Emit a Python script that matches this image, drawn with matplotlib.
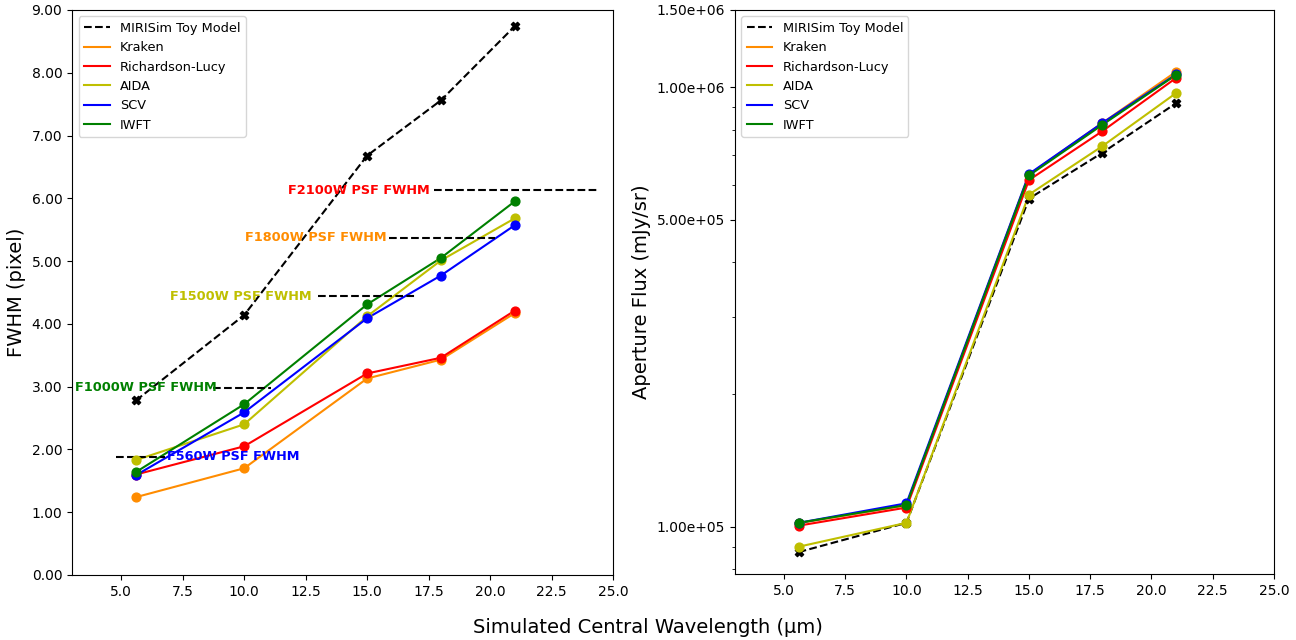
import numpy as np
import matplotlib
matplotlib.use("Agg")
import matplotlib.pyplot as plt
from matplotlib.ticker import FormatStrFormatter

# ---------------- data ----------------
wavelength = [5.6, 10.0, 15.0, 18.0, 21.0]

methods = ["MIRISim Toy Model", "Kraken", "Richardson-Lucy", "AIDA", "SCV", "IWFT"]
colors = ["black", "darkorange", "red", "y", "blue", "green"]

fwhm_toy = [2.78, 4.14, 6.68, 7.56, 8.74]
fwhm_kraken = [1.24, 1.70, 3.13, 3.43, 4.17]
fwhm_rl = [1.60, 2.05, 3.21, 3.46, 4.21]
fwhm_aida = [1.83, 2.40, 4.12, 5.01, 5.68]
fwhm_scv = [1.59, 2.59, 4.09, 4.77, 5.57]
fwhm_iwft = [1.64, 2.72, 4.31, 5.05, 5.95]

flux_toy = [8.75e4, 1.02e5, 5.58e5, 7.10e5, 9.20e5]
flux_kraken = [1.018e5, 1.118e5, 6.33e5, 8.30e5, 1.085e6]
flux_rl = [1.005e5, 1.105e5, 6.15e5, 7.95e5, 1.05e6]
flux_aida = [9.0e4, 1.02e5, 5.70e5, 7.35e5, 9.70e5]
flux_scv = [1.02e5, 1.13e5, 6.35e5, 8.30e5, 1.07e6]
flux_iwft = [1.02e5, 1.12e5, 6.30e5, 8.22e5, 1.067e6]

psf_labels = ["F560W PSF FWHM", "F1000W PSF FWHM", "F1500W PSF FWHM",
              "F1800W PSF FWHM", "F2100W PSF FWHM"]
psf_colors = ["blue", "green", "y", "darkorange", "red"]
psf_fwhm = [1.88, 2.98, 4.44, 5.37, 6.13]
psf_line_start = [4.8, 8.75, 13.0, 15.9, 17.7]
psf_line_end = [6.8, 11.1, 17.0, 20.2, 24.35]
psf_text_x = [6.85, 8.9, 12.75, 15.8, 17.55]
psf_text_ha = ["left", "right", "right", "right", "right"]

yticks_flux = [1e5, 5e5, 1e6, 1.5e6]

fwhm_series = [fwhm_toy, fwhm_kraken, fwhm_rl, fwhm_aida, fwhm_scv, fwhm_iwft]
flux_series = [flux_toy, flux_kraken, flux_rl, flux_aida, flux_scv, flux_iwft]

# ---------------- figure ----------------
fig = plt.figure(figsize=(12.96, 6.4), dpi=100)
ax1 = fig.add_axes([0.0556, 0.1016, 0.4174, 0.8828])
ax2 = fig.add_axes([0.5671, 0.1031, 0.4159, 0.8813])


def draw(ax, series):
    for name, col, vals in zip(methods, colors, series):
        if name == "MIRISim Toy Model":
            ax.plot(wavelength, vals, color=col, ls="--", lw=1.5, label=name)
            ax.scatter(wavelength, vals, color=col, marker="X", s=35, zorder=3)
        else:
            ax.plot(wavelength, vals, color=col, lw=1.5, label=name)
            ax.scatter(wavelength, vals, color=col, marker="o", s=40, zorder=3)
    ax.legend(loc="upper left", fontsize=9.3)
    ax.set_xlim(3, 25)
    ax.tick_params(labelsize=10)


draw(ax1, fwhm_series)
ax1.set_ylim(0, 9)
ax1.yaxis.set_major_formatter(FormatStrFormatter("%.2f"))
ax1.set_ylabel("FWHM (pixel)", fontsize=14)

for lab, col, v, x0, x1, tx, ha in zip(psf_labels, psf_colors, psf_fwhm,
                                       psf_line_start, psf_line_end,
                                       psf_text_x, psf_text_ha):
    ax1.hlines(v, x0, x1, colors="black", linestyles="--", lw=1.5)
    ax1.text(tx, v, lab, color=col, fontsize=9.3, fontweight="bold",
             ha=ha, va="center", zorder=5)

draw(ax2, flux_series)
ax2.set_yscale("log")
ax2.set_ylim(7.8e4, 1.5e6)
ax2.set_yticks(yticks_flux)
ax2.yaxis.set_major_formatter(FormatStrFormatter("%.2e"))
ax2.yaxis.set_minor_formatter(plt.NullFormatter())
ax2.set_ylabel("Aperture Flux (mJy/sr)", fontsize=14)

fig.text(0.5, 0.02, "Simulated Central Wavelength (µm)", ha="center",
         va="center", fontsize=14)

fig.savefig("out.png", dpi=100)
